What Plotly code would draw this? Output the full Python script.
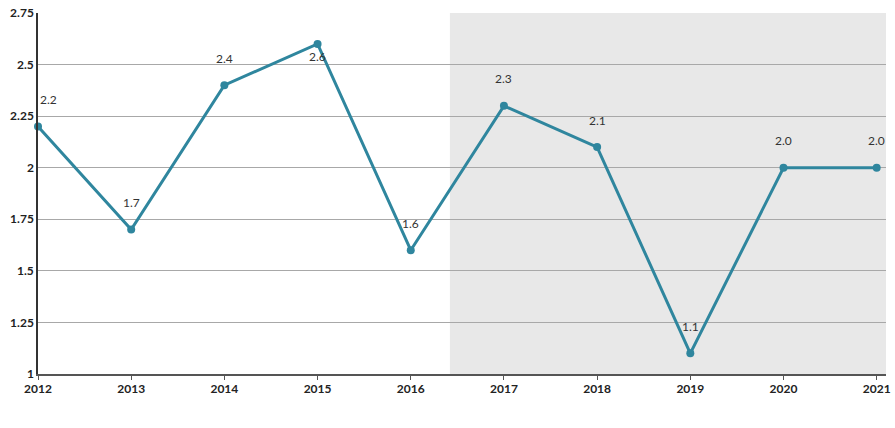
import plotly.graph_objects as go

years = [2012, 2013, 2014, 2015, 2016, 2017, 2018, 2019, 2020, 2021]
values = [2.2, 1.7, 2.4, 2.6, 1.6, 2.3, 2.1, 1.1, 2.0, 2.0]
y_ticks = [1, 1.25, 1.5, 1.75, 2, 2.25, 2.5, 2.75]
y_tick_labels = ["1", "1.25", "1.5", "1.75", "2", "2.25", "2.5", "2.75"]
shade_start = 2016.42

line_color = "#2f869e"
font_family = "Lato, 'Open Sans', sans-serif"

fig = go.Figure()
fig.add_trace(go.Scatter(
    x=years, y=values, mode="lines+markers",
    line=dict(color=line_color, width=3),
    marker=dict(color=line_color, size=8),
    cliponaxis=False, hoverinfo="skip",
))

x_max = 2021.1
fig.add_shape(type="rect", xref="x", yref="paper", x0=shade_start, x1=x_max,
              y0=0, y1=1, fillcolor="#e8e8e8", line=dict(width=0), layer="below")

for i, (yr, v) in enumerate(zip(years, values)):
    below = v >= 2.55
    fig.add_annotation(
        x=yr, y=v, text=f"{v:.1f}", showarrow=False,
        xanchor="left" if i == 0 else "center",
        yshift=-13 if below else 27,
        font=dict(family=font_family, size=12, color="#333333"),
    )

fig.update_layout(
    width=895, height=428,
    margin=dict(l=38, r=9, t=13, b=54, autoexpand=False),
    plot_bgcolor="rgba(0,0,0,0)", paper_bgcolor="white",
    showlegend=False,
    font=dict(family=font_family, size=12, color="#222222"),
    xaxis=dict(
        range=[2012, x_max], tickmode="array", tickvals=years,
        ticktext=[f"<b>{y}</b>" for y in years], automargin=False,
        showgrid=False, showline=True, linecolor="#555555", linewidth=1.5,
        ticks="outside", ticklen=4, tickcolor="#555555", zeroline=False,
        ticklabelstandoff=-1,
        tickfont=dict(size=12, color="#222222"),
    ),
    yaxis=dict(
        range=[1, 2.75], tickmode="array", tickvals=y_ticks,
        ticktext=[f"<b>{t}</b>" for t in y_tick_labels], automargin=False,
        showgrid=True, gridcolor="#a8a8a8", gridwidth=1,
        showline=True, linecolor="#333333", linewidth=1.5, zeroline=False,
        ticks="", tickfont=dict(size=12, color="#222222"),
    ),
)

fig.write_html(
    "out.html",
    config={"displayModeBar": False},
    post_script="document.body.style.margin='0';document.body.style.overflow='hidden';",
)
